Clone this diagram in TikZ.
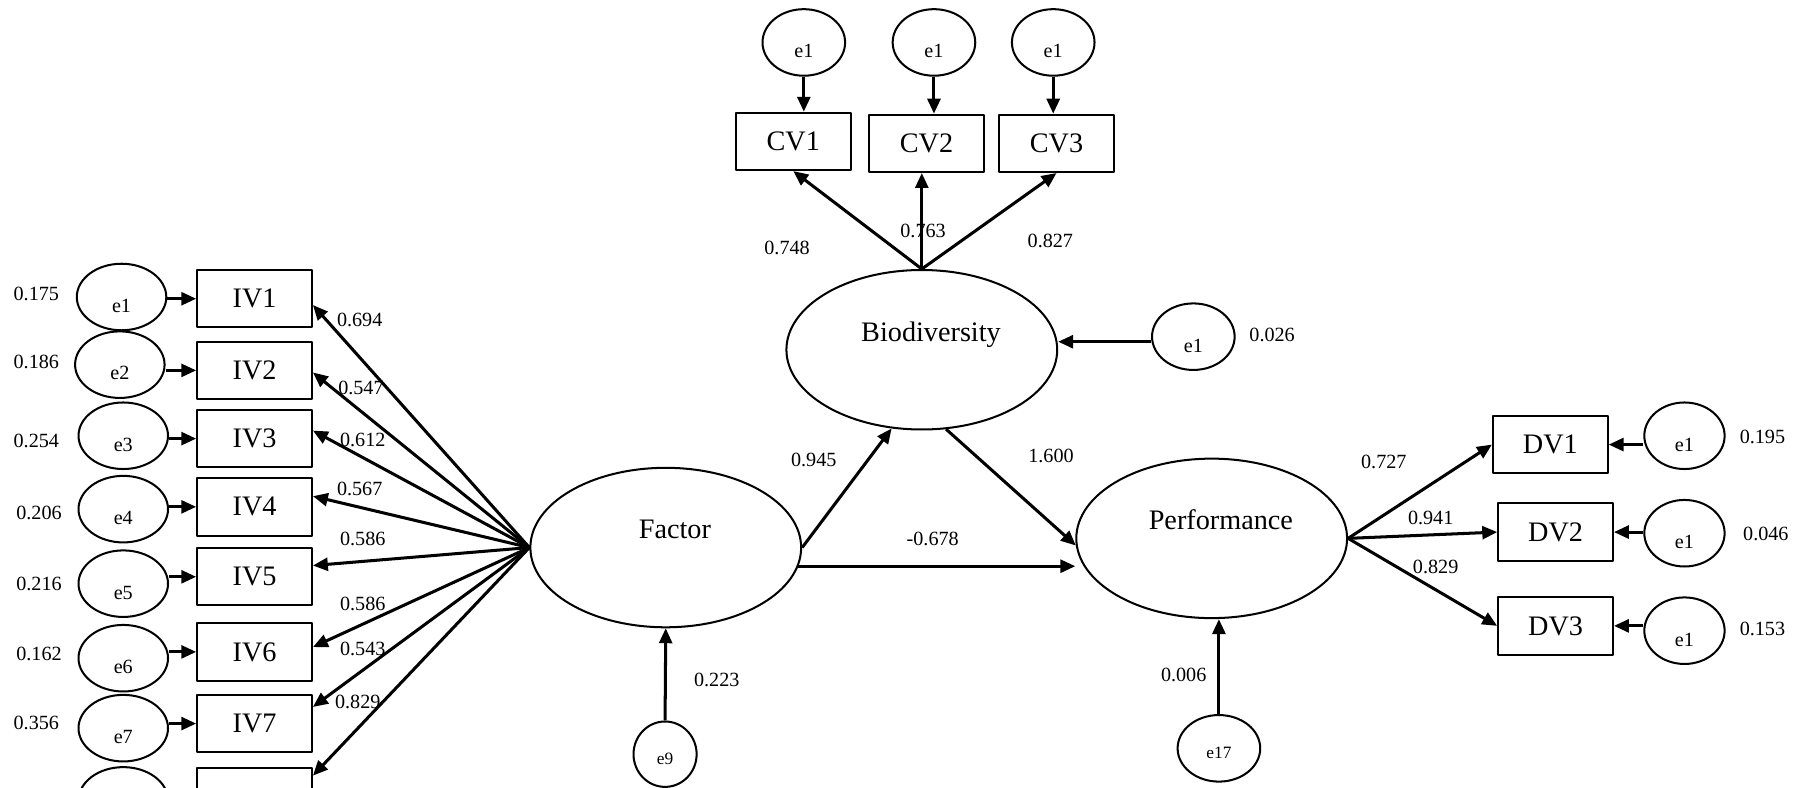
\documentclass[tikz,border=0pt]{standalone}
\usepackage{fontspec}
\setmainfont{Liberation Serif}
\usetikzlibrary{arrows.meta,shapes.geometric}

\begin{document}
\begin{tikzpicture}[x=0.01cm, y=-0.01cm, line join=round, >={Triangle[length=3.7pt,width=3.2pt]},
    obs/.style={draw, line width=0.5pt, minimum width=1cm, minimum height=0.5cm, inner sep=0pt, font=\fontsize{7}{8}\selectfont},
    latent/.style={draw, ellipse, line width=0.5pt, minimum width=2.36cm, minimum height=1.39cm, inner sep=0pt,
        text height=1pt, text depth=5.3pt, execute at begin node={\hspace*{1.6mm}}, font=\fontsize{7}{8}\selectfont},
    err/.style={draw, ellipse, line width=0.5pt, minimum width=0.72cm, minimum height=0.58cm, inner sep=0pt,
        text height=7.6pt, text depth=0pt, font=\fontsize{5}{6}\selectfont},
    errs/.style={err, minimum width=0.55cm, minimum height=0.57cm, text height=5pt, font=\fontsize{4.3}{5}\selectfont},
    val/.style={inner sep=0pt, font=\fontsize{5}{6}\selectfont},
    arr/.style={->, line width=0.75pt}]
    \useasboundingbox (0,0) rectangle (1568,687);
    \clip (0,0) rectangle (1568,687);
    % indicators of Factor
    \node[obs] (IV1) at (222,260.5) {IV1};
    \node[obs] (IV2) at (222,323) {IV2};
    \node[obs] (IV3) at (222,382.5) {IV3};
    \node[obs] (IV4) at (222,442) {IV4};
    \node[obs] (IV5) at (222,503) {IV5};
    \node[obs] (IV6) at (222,568.5) {IV6};
    \node[obs] (IV7) at (222,631) {IV7};
    \node[obs] (IV8) at (222,695) {};
    \node[err, minimum width=0.78cm] (e1) at (106,259) {e1};
    \node[err, minimum width=0.78cm] (e2) at (104.5,318) {e2};
    \node[err, minimum width=0.78cm] (e3) at (107.5,380) {e3};
    \node[err, minimum width=0.78cm] (e4) at (107.5,444) {e4};
    \node[err, minimum width=0.78cm] (e5) at (107.5,509) {e5};
    \node[err, minimum width=0.78cm] (e6) at (107.5,574) {e6};
    \node[err, minimum width=0.78cm] (e7) at (107.5,635) {e7};
    \node[err, minimum width=0.78cm] (e8) at (107.5,698) {};
    % indicators of Biodiversity
    \node[obs] (CV1) at (691.8,123.3) {CV1};
    \node[obs] (CV2) at (808,125) {CV2};
    \node[obs] (CV3) at (921.4,125) {CV3};
    \node[err] (c1) at (701,37) {e1};
    \node[err] (c2) at (814.5,37) {e1};
    \node[err] (c3) at (918.5,37) {e1};
    % latent variables
    \node[latent] (Factor) at (580.6,477.5) {Factor};
    \node[latent] (Bio) at (803.9,305) {Biodiversity};
    \node[latent] (Perf) at (1056.7,469.5) {Performance};
    \node[err] (eb) at (1040.7,293.6) {e1};
    \node[errs] (e9) at (580,657.7) {e9};
    \node[errs, minimum width=0.72cm, minimum height=0.58cm] (e17) at (1063,652.6) {e17};
    % indicators of Performance
    \node[obs] (DV1) at (1352,387.7) {DV1};
    \node[obs] (DV2) at (1356.6,464) {DV2};
    \node[obs] (DV3) at (1356.6,545.8) {DV3};
    \node[err, minimum width=0.7cm] (d1) at (1469,380) {e1};
    \node[err, minimum width=0.7cm] (d2) at (1469,465) {e1};
    \node[err, minimum width=0.7cm] (d3) at (1469,550) {e1};

    \draw[arr] (IV1.west -| e1.east) -- (IV1.west);
    \draw[arr] (IV2.west -| e2.east) -- (IV2.west);
    \draw[arr] (IV3.west -| e3.east) -- (IV3.west);
    \draw[arr] (IV4.west -| e4.east) -- (IV4.west);
    \draw[arr] (IV5.west -| e5.east) -- (IV5.west);
    \draw[arr] (IV6.west -| e6.east) -- (IV6.west);
    \draw[arr] (IV7.west -| e7.east) -- (IV7.west);
    \draw[arr] (Factor.west) -- ([yshift=-0.055cm]IV1.east);
    \draw[arr] (Factor.west) -- ([yshift=-0.018cm]IV2.east);
    \draw[arr] (Factor.west) -- ([yshift=0.07cm]IV3.east);
    \draw[arr] (Factor.west) -- ([yshift=0.093cm]IV4.east);
    \draw[arr] (Factor.west) -- ([yshift=0.098cm]IV5.east);
    \draw[arr] (Factor.west) -- ([yshift=0.042cm]IV6.east);
    \draw[arr] (Factor.west) -- ([yshift=0.145cm]IV7.east);
    \draw[arr] (Factor.west) -- ([yshift=0.186cm]IV8.east);

    \draw[arr] (c1.south) -- (c1.south |- CV1.north);
    \draw[arr] (c2.south) -- (c2.south |- CV2.north);
    \draw[arr] (c3.south) -- (c3.south |- CV3.north);
    \draw[arr] (Bio.north) -- (CV1.south);
    \draw[arr] (Bio.north) -- (Bio.north |- CV2.south);
    \draw[arr] (Bio.north) -- (CV3.south);
    \draw[arr] ([yshift=-0.044cm]eb.west) -- ([yshift=-0.044cm]eb.west -| Bio.east);

    \draw[arr] (Factor.east) -- (Bio.249);
    \draw[arr] (Bio.287) -- (Perf.183);
    \draw[arr] (Factor.352) -- (Factor.352 -| Perf.west);
    \draw[arr] (e9.north) -- (Factor.south);
    \draw[arr] (e17.north) -- (e17.north |- Perf.south);

    \draw[arr] (Perf.east) -- (DV1.west);
    \draw[arr] (Perf.east) -- (DV2.west);
    \draw[arr] (Perf.east) -- (DV3.west);
    \draw[arr] (DV1.east -| d1.west) -- (DV1.east);
    \draw[arr] (DV2.east -| d2.west) -- (DV2.east);
    \draw[arr] (DV3.east -| d3.west) -- (DV3.east);

    % estimates
    \node[val] (k1) at (313.7,279.1) {0.694};
    \node[val] (k2) at (314.8,337.9) {0.547};
    \node[val] (k3) at (316.4,383.7) {0.612};
    \node[val] (k4) at (313.7,426.2) {0.567};
    \node[val] (k5) at (316.4,469.7) {0.586};
    \node[val] (k6) at (316.4,526.9) {0.586};
    \node[val] (k7) at (316.4,566.2) {0.543};
    \node[val] (k8) at (312,611.9) {0.829};
    \node[val] (r1) at (31.7,256.1) {0.175};
    \node[val] (r2) at (31.7,315.7) {0.186};
    \node[val] (r3) at (31.7,384.3) {0.254};
    \node[val] (r4) at (34,447.4) {0.206};
    \node[val] (r5) at (34,509.6) {0.216};
    \node[val] (r6) at (34,570) {0.162};
    \node[val] (r7) at (31.7,630.5) {0.356};
    \node[val] (kc1) at (686.4,216.6) {0.748};
    \node[val] (kc2) at (805,201.2) {0.763};
    \node[val] (kc3) at (916,209.9) {0.827};
    \node[val] (rb) at (1109.4,292.1) {0.026};
    \node[val] (gfb) at (709.7,401.2) {0.945};
    \node[val] (gbp) at (916.6,397.7) {1.600};
    \node[val] (gfp) at (813.4,470.3) {-0.678};
    \node[val] (rf) at (625.1,593) {0.223};
    \node[val] (rp) at (1032.3,588.6) {0.006};
    \node[val] (kd1) at (1206.8,402.6) {0.727};
    \node[val] (kd2) at (1247.7,452) {0.941};
    \node[val] (kd3) at (1252,494.2) {0.829};
    \node[val] (rd1) at (1537,380.8) {0.195};
    \node[val] (rd2) at (1540,465.7) {0.046};
    \node[val] (rd3) at (1537,548.8) {0.153};
\end{tikzpicture}
\end{document}
